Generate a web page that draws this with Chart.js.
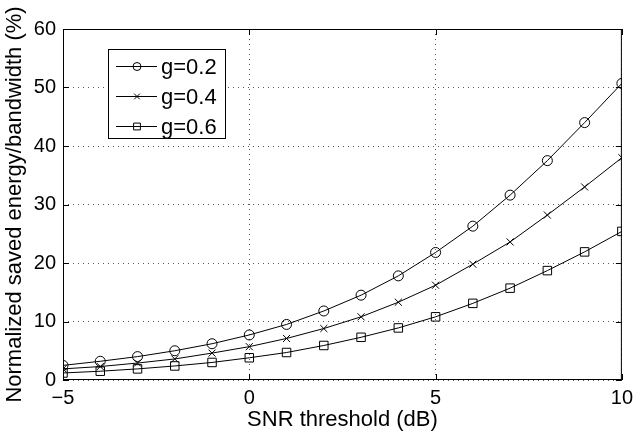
<!DOCTYPE html>
<html>
<head>
<meta charset="utf-8">
<script src="https://cdn.jsdelivr.net/npm/chart.js@4/dist/chart.umd.min.js"></script>
<style>
  html, body { margin: 0; padding: 0; background: #fff; }
  #wrap { width: 639px; height: 437px; }
</style>
</head>
<body>
<div id="wrap"><canvas id="chart" width="639" height="437"></canvas></div>
<script>
// SNR threshold (dB)
const snr = [-5, -4, -3, -2, -1, 0, 1, 2, 3, 4, 5, 6, 7, 8, 9, 10];
const g02 = [2.5, 3.2, 4.0, 5.0, 6.2, 7.7, 9.5, 11.8, 14.5, 17.8, 21.8, 26.3, 31.6, 37.5, 44.0, 50.7];
const g04 = [1.9, 2.3, 2.9, 3.6, 4.6, 5.7, 7.1, 8.8, 10.8, 13.3, 16.2, 19.8, 23.6, 28.2, 33.0, 38.0];
const g06 = [1.2, 1.5, 1.9, 2.4, 3.0, 3.8, 4.7, 5.9, 7.3, 8.9, 10.8, 13.1, 15.7, 18.7, 21.9, 25.4];
const seriesNames = ["g=0.2", "g=0.4", "g=0.6"];
const xTicks = [-5, 0, 5, 10];
const yTicks = [0, 10, 20, 30, 40, 50, 60];

const FONT = "'Liberation Sans', Arial, sans-serif";

function pts(ys) {
  return ys.map((y, i) => ({ x: snr[i], y: y }));
}

function mkSet(label, ys, style, r) {
  return {
    label: label,
    data: pts(ys),
    borderColor: "#000",
    borderWidth: 1,
    backgroundColor: "rgba(0,0,0,0)",
    pointStyle: style,
    pointRadius: r,
    pointBorderColor: "#000",
    pointBorderWidth: 1,
    pointBackgroundColor: "rgba(0,0,0,0)",
    tension: 0
  };
}

// frame, inward ticks and legend box, matlab style
const framePlugin = {
  id: "frame",
  afterDraw(chart) {
    const { ctx, chartArea: a, scales } = chart;
    ctx.save();
    ctx.strokeStyle = "#000";
    ctx.lineWidth = 1;
    ctx.strokeRect(a.left + 0.5, a.top + 0.5, a.right - a.left - 1, a.bottom - a.top - 1);
    ctx.beginPath();
    xTicks.forEach(v => {
      const x = Math.round(scales.x.getPixelForValue(v)) + 0.5;
      ctx.moveTo(x, a.bottom); ctx.lineTo(x, a.bottom - 6);
      ctx.moveTo(x, a.top); ctx.lineTo(x, a.top + 6);
    });
    yTicks.forEach(v => {
      const y = Math.round(scales.y.getPixelForValue(v)) + 0.5;
      ctx.moveTo(a.left, y); ctx.lineTo(a.left + 6, y);
      ctx.moveTo(a.right, y); ctx.lineTo(a.right - 6, y);
    });
    ctx.stroke();

    // legend
    const bx = 108, by = 49, bw = 117, bh = 89;
    ctx.fillStyle = "#fff";
    ctx.fillRect(bx, by, bw, bh);
    ctx.strokeRect(bx + 0.5, by + 0.5, bw, bh);
    ctx.font = "22px " + FONT;
    ctx.textBaseline = "middle";
    chart.data.datasets.forEach((ds, i) => {
      const y = Math.round(by + 17 + i * 30) + 0.5;
      ctx.strokeStyle = "#000";
      ctx.beginPath();
      ctx.moveTo(bx + 8, y); ctx.lineTo(bx + 49, y);
      ctx.stroke();
      ctx.fillStyle = "rgba(0,0,0,0)";
      Chart.helpers.drawPoint(ctx, { pointStyle: ds.pointStyle, radius: ds.pointRadius * 0.8, borderWidth: 1 }, bx + 29, y);
      ctx.fillStyle = "#000";
      ctx.fillText(ds.label, bx + 53, y + 1);
    });
    ctx.restore();
  }
};

new Chart(document.getElementById("chart"), {
  type: "line",
  data: {
    datasets: [
      mkSet(seriesNames[0], g02, "circle", 5),
      mkSet(seriesNames[1], g04, "crossRot", 5),
      mkSet(seriesNames[2], g06, "rect", 6)
    ]
  },
  options: {
    responsive: false,
    animation: false,
    layout: { padding: { top: 29, right: 13, left: 0, bottom: 0 } },
    plugins: { legend: { display: false }, tooltip: { enabled: false } },
    scales: {
      x: {
        type: "linear",
        min: -5, max: 10,
        afterBuildTicks: s => { s.ticks = xTicks.map(v => ({ value: v })); },
        afterFit: s => { s.height = 57; },
        grid: { color: "#555", lineWidth: 1, drawTicks: false },
        border: { display: false, dash: [1, 4] },
        ticks: {
          color: "#000", padding: 6,
          font: { family: FONT, size: 20 },
          callback: v => String(v).replace("-", "\u2212")
        },
        title: {
          display: true, text: "SNR threshold (dB)", color: "#000",
          font: { family: FONT, size: 22 }, padding: { top: 0, bottom: 4 }
        }
      },
      y: {
        min: 0, max: 60,
        afterBuildTicks: s => { s.ticks = yTicks.map(v => ({ value: v })); },
        afterFit: s => { s.width = 63; },
        grid: { color: "#555", lineWidth: 1, drawTicks: false },
        border: { display: false, dash: [1, 4] },
        ticks: {
          color: "#000", padding: 7,
          font: { family: FONT, size: 20 }
        },
        title: {
          display: true, text: "Normalized saved energy/bandwidth (%)", color: "#000",
          font: { family: FONT, size: 22 }, padding: { top: 2, bottom: 0 }
        }
      }
    }
  },
  plugins: [framePlugin]
});
</script>
</body>
</html>
